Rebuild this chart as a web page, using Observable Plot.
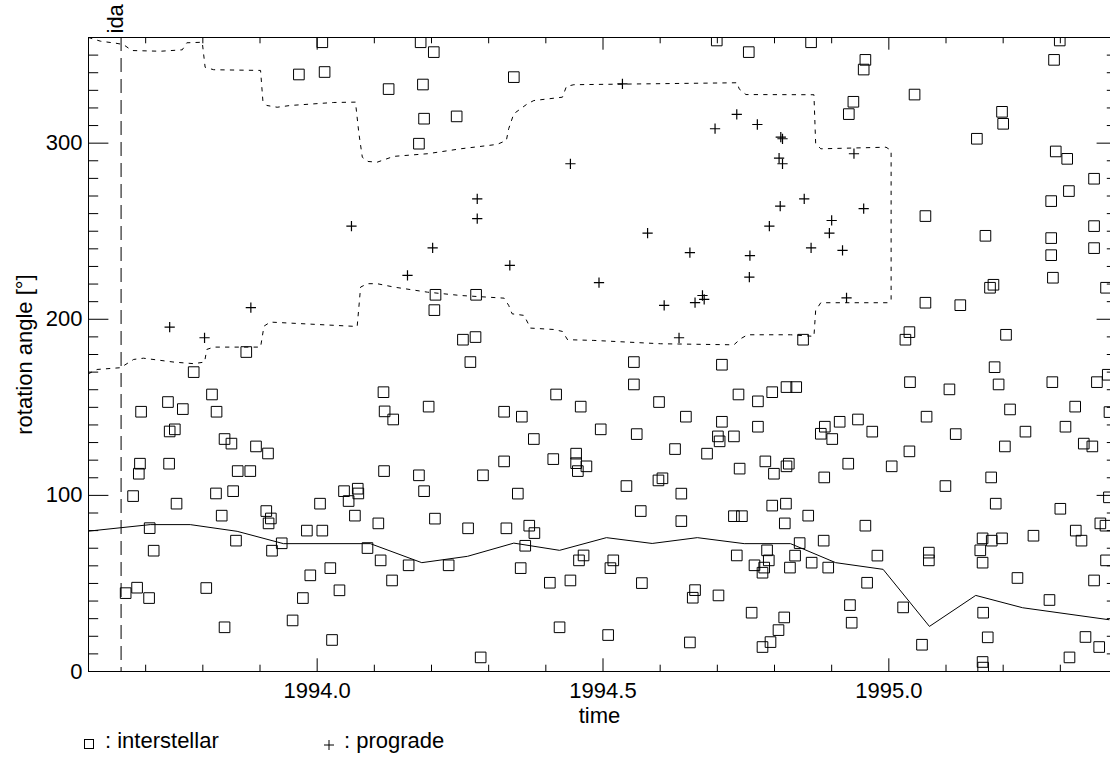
<!DOCTYPE html>
<html><head><meta charset="utf-8">
<script src="https://cdn.jsdelivr.net/npm/d3@7"></script>
<script src="https://cdn.jsdelivr.net/npm/@observablehq/plot@0.6"></script>
<style>
body{margin:0;background:#fff;font-family:"Liberation Sans",Arial,sans-serif;color:#000;}
#chart svg{display:block;}
#legend{position:relative;width:1110px;height:38px;font-size:22px;line-height:22px;}
#legend span{position:absolute;top:-5px;white-space:pre;}
#legend svg{position:absolute;}
</style></head><body>
<div id="chart"></div>
<div id="legend">
  <svg style="left:83px;top:3px" width="12" height="12"><rect x="1.5" y="1.5" width="9" height="9" fill="none" stroke="black" stroke-width="1"/></svg>
  <span style="left:105px">: interstellar</span>
  <svg style="left:323px;top:4px" width="12" height="12"><path d="M1,6H11M6,1V11" stroke="black" stroke-width="1"/></svg>
  <span style="left:344px">: prograde</span>
</div>
<script>
const interstellarTime = [
1994.009, 1993.968, 1994.013, 1994.181, 1994.204, 1994.125, 1994.185, 1994.344, 1994.187, 1994.244,
1994.178, 1994.699, 1994.864, 1994.755, 1994.959, 1994.956, 1995.045, 1994.938, 1994.930, 1995.198,
1995.200, 1995.154, 1995.292, 1995.312, 1995.359, 1995.315, 1995.284, 1995.064, 1995.359, 1995.169,
1995.284, 1995.359, 1995.284, 1995.299, 1995.289, 1993.876, 1993.784, 1993.816, 1993.739, 1993.692,
1993.765, 1993.824, 1993.751, 1993.742, 1993.838, 1993.850, 1993.893, 1993.914, 1993.690, 1993.741,
1993.688, 1993.861, 1993.883, 1994.207, 1994.278, 1994.205, 1994.255, 1994.277, 1994.268, 1994.554,
1994.708, 1994.554, 1994.116, 1994.418, 1994.598, 1994.118, 1994.133, 1994.195, 1994.327, 1994.358,
1994.461, 1994.645, 1994.708, 1994.496, 1994.559, 1994.379, 1994.701, 1994.704, 1994.729, 1994.626,
1994.682, 1994.413, 1994.453, 1994.453, 1994.471, 1994.456, 1994.327, 1994.117, 1994.178, 1994.290,
1994.597, 1994.604, 1994.739, 1995.287, 1995.183, 1995.177, 1995.380, 1995.064, 1995.125, 1995.036,
1995.029, 1995.205, 1994.850, 1995.185, 1995.037, 1995.106, 1995.192, 1995.286, 1995.364, 1995.383,
1994.737, 1994.771, 1994.796, 1994.821, 1994.838, 1995.212, 1995.326, 1995.386, 1994.771, 1994.888,
1994.881, 1994.901, 1994.914, 1994.946, 1994.971, 1995.066, 1995.117, 1995.239, 1995.309, 1995.203,
1995.341, 1995.356, 1995.036, 1994.784, 1994.799, 1994.821, 1994.825, 1994.929, 1995.005, 1994.887,
1995.179, 1993.678, 1993.754, 1993.823, 1993.853, 1993.833, 1993.707, 1993.714, 1993.858, 1993.911,
1993.919, 1993.915, 1993.938, 1993.921, 1994.005, 1993.982, 1994.009, 1994.047, 1994.071, 1994.072,
1994.055, 1994.066, 1994.088, 1994.023, 1993.988, 1994.039, 1993.975, 1993.957, 1994.026, 1993.665,
1993.685, 1993.706, 1993.806, 1993.838, 1994.187, 1994.351, 1994.541, 1994.637, 1994.107, 1994.206,
1994.264, 1994.331, 1994.371, 1994.380, 1994.566, 1994.637, 1994.729, 1994.743, 1994.364, 1994.111,
1994.160, 1994.230, 1994.131, 1994.356, 1994.466, 1994.458, 1994.518, 1994.513, 1994.734, 1994.407,
1994.443, 1994.568, 1994.661, 1994.657, 1994.702, 1994.424, 1994.509, 1994.652, 1994.286, 1995.099,
1995.187, 1995.300, 1994.796, 1994.820, 1994.859, 1994.818, 1994.959, 1995.370, 1995.379, 1994.844,
1994.886, 1994.787, 1994.836, 1994.790, 1994.765, 1994.782, 1994.779, 1994.827, 1994.865, 1994.894,
1994.980, 1994.962, 1995.070, 1995.070, 1995.164, 1995.180, 1995.198, 1995.253, 1995.327, 1995.337,
1995.160, 1995.164, 1995.380, 1995.225, 1995.359, 1995.281, 1994.760, 1994.817, 1994.807, 1994.793,
1994.779, 1994.932, 1994.935, 1995.025, 1995.165, 1995.173, 1995.058, 1995.344, 1995.368, 1995.316,
1995.164, 1995.165, 1995.385
];
const interstellarAngle = [
357.3, 339.0, 340.4, 357.3, 351.7, 330.7, 333.3, 337.5, 313.9, 315.2,
299.7, 358.3, 357.3, 351.7, 347.3, 341.8, 327.6, 323.5, 316.5, 317.8,
311.0, 302.5, 295.3, 291.1, 279.8, 272.8, 267.1, 258.6, 252.9, 247.4,
246.1, 240.4, 236.4, 358.3, 347.3, 181.4, 170.0, 157.3, 153.0, 147.5,
149.0, 147.5, 137.5, 136.3, 132.0, 129.4, 127.8, 123.8, 118.0, 118.0,
112.3, 113.8, 113.8, 213.9, 213.9, 205.2, 188.4, 189.9, 175.7, 175.7,
174.2, 163.0, 158.6, 157.3, 153.0, 147.7, 143.1, 150.4, 147.5, 144.7,
150.4, 144.7, 141.8, 137.5, 134.8, 132.0, 133.5, 130.7, 133.5, 126.3,
123.7, 120.6, 123.7, 118.3, 116.5, 113.8, 119.3, 113.8, 111.4, 111.4,
108.5, 109.7, 115.2, 223.6, 219.6, 217.9, 217.9, 209.4, 208.0, 192.7,
188.4, 191.2, 188.4, 172.8, 164.3, 160.2, 163.0, 164.3, 164.3, 168.5,
157.3, 153.4, 158.6, 161.5, 161.5, 148.8, 150.4, 147.3, 139.0, 139.0,
135.0, 132.0, 141.8, 143.1, 136.2, 144.7, 134.8, 136.2, 139.0, 127.8,
129.4, 127.8, 125.0, 119.3, 112.3, 116.5, 118.0, 118.0, 116.5, 110.2,
110.2, 99.6, 95.3, 101.1, 102.4, 88.5, 81.4, 68.6, 74.3, 91.1,
86.9, 84.1, 72.8, 68.6, 95.3, 80.0, 80.0, 102.4, 103.8, 101.1,
96.8, 88.5, 70.1, 58.7, 54.6, 46.1, 41.7, 29.0, 17.9, 44.5,
47.6, 41.7, 47.4, 25.1, 102.4, 101.0, 105.3, 101.0, 84.1, 86.8,
81.3, 81.3, 82.8, 78.6, 91.1, 85.4, 88.2, 88.2, 71.4, 63.1,
60.3, 60.3, 51.7, 58.7, 65.9, 63.1, 63.1, 58.7, 65.9, 50.4,
51.7, 50.2, 46.2, 41.9, 43.2, 25.1, 20.7, 16.5, 8.0, 105.3,
95.3, 92.4, 94.2, 95.3, 88.5, 84.1, 82.8, 84.1, 82.8, 72.9,
74.3, 68.8, 65.8, 63.1, 60.3, 59.0, 56.1, 59.0, 61.8, 59.0,
65.8, 50.4, 67.5, 63.1, 75.6, 74.3, 75.6, 77.1, 80.0, 74.3,
68.8, 61.8, 63.1, 53.1, 51.7, 40.6, 33.4, 30.7, 23.5, 16.7,
13.9, 37.7, 27.7, 36.4, 33.4, 19.4, 15.2, 19.6, 13.9, 8.0,
5.4, 2.2, 98.9
];
const progradeTime = [
1993.742, 1993.803, 1993.884, 1994.060, 1994.158, 1994.202, 1994.280, 1994.280, 1994.337, 1994.443,
1994.493, 1994.534, 1994.578, 1994.607, 1994.633, 1994.652, 1994.661, 1994.674, 1994.677, 1994.696,
1994.734, 1994.770, 1994.811, 1994.814, 1994.808, 1994.814, 1994.939, 1994.852, 1994.810, 1994.956,
1994.900, 1994.791, 1994.896, 1994.864, 1994.919, 1994.757, 1994.756, 1994.926
];
const progradeAngle = [
195.5, 189.5, 206.6, 252.9, 224.9, 240.6, 268.4, 257.1, 230.6, 288.3,
220.8, 333.7, 248.9, 207.9, 189.5, 237.8, 209.4, 213.5, 211.3, 308.2,
316.3, 310.6, 303.4, 302.5, 291.5, 288.3, 294.0, 268.4, 264.2, 262.8,
256.1, 252.9, 248.9, 240.6, 239.1, 236.2, 223.9, 212.2
];
const meanTime = [1993.600, 1993.708, 1993.778, 1993.860, 1993.941, 1994.093, 1994.183, 1994.263, 1994.344, 1994.424, 1994.506, 1994.586, 1994.665, 1994.747, 1994.828, 1994.907, 1994.990, 1995.071, 1995.152, 1995.234, 1995.385];
const meanAngle = [79.7, 83.4, 83.4, 79.6, 72.6, 72.6, 61.8, 65.4, 72.9, 68.8, 76.0, 72.7, 76.0, 72.6, 72.6, 61.8, 58.0, 25.6, 43.2, 36.2, 29.4];
const upperTime = [1993.600, 1993.621, 1993.647, 1993.661, 1993.676, 1993.726, 1993.764, 1993.772, 1993.799, 1993.804, 1993.819, 1993.901, 1993.905, 1993.912, 1993.930, 1993.953, 1994.029, 1994.067, 1994.073, 1994.079, 1994.089, 1994.105, 1994.134, 1994.193, 1994.251, 1994.315, 1994.331, 1994.335, 1994.344, 1994.368, 1994.379, 1994.429, 1994.436, 1994.449, 1994.735, 1994.738, 1994.750, 1994.869, 1994.872, 1994.881, 1994.995, 1995.004];
const upperAngle = [360.0, 357.9, 356.8, 356.0, 352.6, 352.2, 353.0, 357.0, 357.3, 343.1, 341.7, 341.3, 324.2, 321.4, 320.4, 321.4, 323.1, 323.3, 305.5, 292.0, 289.6, 289.2, 292.5, 294.0, 296.8, 299.3, 301.6, 308.2, 316.7, 322.4, 324.2, 326.1, 332.2, 333.2, 334.3, 330.9, 327.6, 327.5, 299.8, 296.8, 297.7, 295.9];
const lowerTime = [1993.600, 1993.615, 1993.656, 1993.679, 1993.696, 1993.749, 1993.784, 1993.803, 1993.807, 1993.819, 1993.901, 1993.907, 1993.918, 1994.070, 1994.076, 1994.088, 1994.105, 1994.134, 1994.193, 1994.251, 1994.327, 1994.335, 1994.341, 1994.362, 1994.373, 1994.414, 1994.429, 1994.438, 1994.484, 1994.601, 1994.729, 1994.741, 1994.753, 1994.828, 1994.869, 1994.872, 1994.881, 1994.998, 1995.004];
const lowerAngle = [169.1, 171.5, 172.5, 177.2, 177.9, 175.7, 174.8, 175.7, 182.9, 184.2, 184.2, 196.1, 198.4, 195.9, 218.3, 220.2, 220.2, 218.3, 215.4, 213.5, 212.0, 207.9, 203.1, 202.2, 195.0, 194.2, 193.1, 188.4, 188.0, 186.1, 185.5, 189.0, 191.2, 191.2, 190.3, 205.0, 209.4, 209.4, 210.8];
const idaTime = 1993.657;
const xDomain = [1993.6, 1995.4];
const yDomain = [0, 360];
const xMajorTicks = [1994.0, 1994.5, 1995.0];
const xMinorTicks = [1993.7, 1993.8, 1993.9, 1994.1, 1994.2, 1994.3, 1994.4, 1994.6, 1994.7, 1994.8, 1994.9, 1995.1, 1995.2, 1995.3];
const yMajorTicks = [0, 100, 200, 300];
const yMinorTicks = [10, 20, 30, 40, 50, 60, 70, 80, 90, 110, 120, 130, 140, 150, 160, 170, 180, 190, 210, 220, 230, 240, 250, 260, 270, 280, 290, 310, 320, 330, 340, 350];

const interstellar = interstellarTime.map((t, i) => ({t, a: interstellarAngle[i]}));
const prograde = progradeTime.map((t, i) => ({t, a: progradeAngle[i]}));
const mean = meanTime.map((t, i) => ({t, a: meanAngle[i]}));
const band = upperTime.map((t, i) => ({t, a: upperAngle[i]}))
  .concat(lowerTime.map((t, i) => ({t, a: lowerAngle[i]})).reverse());

const W = 1110, H = 735, mL = 88, mR = 0, mT = 37, mB = 64;
const fW = W - mL - mR, fH = H - mT - mB;
const xRight = 1117;

const chart = Plot.plot({
  width: W, height: H,
  marginLeft: mL, marginRight: mR, marginTop: mT, marginBottom: mB,
  style: {fontFamily: '"Liberation Sans", Arial, sans-serif', fontSize: "22px", background: "white", color: "black"},
  x: {domain: xDomain, range: [mL, xRight]},
  y: {domain: yDomain, range: [H - mB, mT]},
  marks: [
    Plot.ruleY([yDomain[0], yDomain[1]], {stroke: "black", strokeWidth: 1}),
    Plot.ruleX([xDomain[0]], {stroke: "black", strokeWidth: 1}),
    Plot.tickX(xMajorTicks, {x: d => d, insetTop: fH - 12.7, stroke: "black"}),
    Plot.tickX(xMinorTicks, {x: d => d, insetTop: fH - 6.3, stroke: "black"}),
    Plot.tickX(xMajorTicks, {x: d => d, insetBottom: fH - 12.7, stroke: "black"}),
    Plot.tickX(xMinorTicks, {x: d => d, insetBottom: fH - 6.3, stroke: "black"}),
    Plot.tickY(yMajorTicks, {y: d => d, insetRight: fW - 20.4, stroke: "black"}),
    Plot.tickY(yMinorTicks, {y: d => d, insetRight: fW - 10.2, stroke: "black"}),
    Plot.tickY(yMajorTicks, {y: d => d, insetLeft: (xRight - 20.4) - mL, stroke: "black"}),
    Plot.tickY(yMinorTicks, {y: d => d, insetLeft: (xRight - 10.2) - mL, stroke: "black"}),
    Plot.axisX({ticks: xMajorTicks, tickFormat: d3.format(".1f"), tickSize: 0, tickPadding: 11, label: null}),
    Plot.axisY({ticks: yMajorTicks, tickFormat: d3.format("d"), tickSize: 0, tickPadding: 6, label: null}),
    Plot.ruleX([idaTime], {stroke: "black", strokeWidth: 1, strokeDasharray: "14,7"}),
    Plot.text([idaTime], {x: d => d, text: () => "ida", frameAnchor: "top", rotate: -90, textAnchor: "start", lineAnchor: "middle", dx: -5, dy: -4}),
    Plot.line(band, {x: "t", y: "a", stroke: "black", strokeWidth: 1, strokeDasharray: "3.5,6", clip: true}),
    Plot.line(mean, {x: "t", y: "a", stroke: "black", strokeWidth: 1, clip: true}),
    Plot.dot(interstellar, {x: "t", y: "a", symbol: "square", r: 6, stroke: "black", fill: "none", strokeWidth: 1, clip: true}),
    Plot.dot(prograde, {x: "t", y: "a", symbol: "plus", r: 3.4, stroke: "black", strokeWidth: 1.2, clip: true}),
    Plot.text(["rotation angle [°]"], {text: d => d, frameAnchor: "left", rotate: -90, dx: -64, textAnchor: "middle", lineAnchor: "middle"}),
    Plot.text(["time"], {text: d => d, frameAnchor: "bottom", dy: 44, lineAnchor: "middle"})
  ]
});
document.getElementById("chart").appendChild(chart);
</script>
</body></html>
